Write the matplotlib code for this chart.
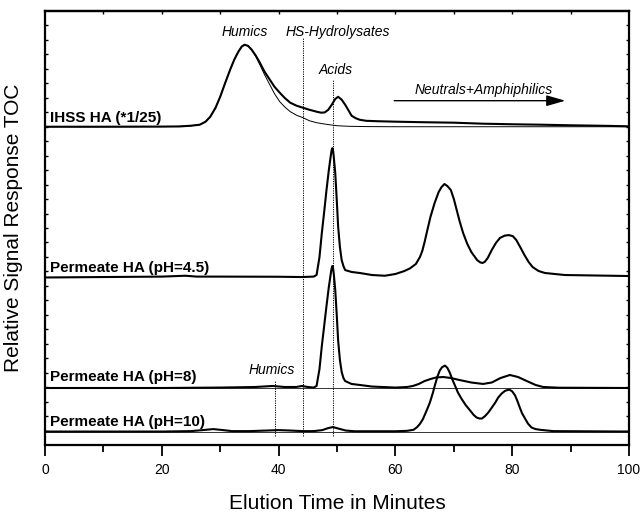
import matplotlib
matplotlib.use("Agg")
import matplotlib.pyplot as plt
import numpy as np

plt.rcParams['font.family'] = ['Liberation Sans', 'DejaVu Sans']

# ---------------- data (minutes, relative signal above each trace's baseline) ----------------
series_labels = ["IHSS HA (*1/25)", "Permeate HA (pH=4.5)", "Permeate HA (pH=8)", "Permeate HA (pH=10)"]
baselines = [22.0, 11.61, 3.94, 0.93]

ihss_t = [0, 10, 20, 23, 25, 26.5, 27.5, 28.3, 29.2, 30, 30.8, 31.7, 32.4, 33.1, 33.7, 34.2, 34.8,
          35.4, 36.1, 36.8, 37.6, 38.5, 39.3, 40.2, 41.1, 42.0, 43.1, 44.2, 45.3, 46.5, 47.3, 47.9,
          48.5, 49.1, 49.7, 50.2, 50.8, 51.4, 52.0, 52.5, 53.2, 53.9, 55, 57, 60, 65, 70, 75, 80,
          85, 90, 95, 100]
ihss_v = [0, 0, 0.01, 0.02, 0.07, 0.14, 0.35, 0.69, 1.31, 2.07, 2.97, 3.94, 4.63, 5.18, 5.55, 5.67, 5.58,
          5.32, 4.91, 4.42, 3.80, 3.25, 2.76, 2.35, 1.97, 1.66, 1.45, 1.31, 1.17, 1.04, 0.97, 0.99,
          1.17, 1.52, 1.92, 2.07, 1.87, 1.52, 1.11, 0.76, 0.59, 0.48, 0.41, 0.38, 0.35, 0.31, 0.28, 0.21, 0.17,
          0.14, 0.10, 0.07, 0.03]

ihss_fit_t = [0, 10, 20, 23, 25, 26.5, 27.5, 28.3, 29.2, 30, 30.8, 31.7, 32.4, 33.1, 33.7, 34.2, 34.8,
              35.4, 36.1, 36.8, 37.6, 38.5, 39.3, 40.2, 41.1, 42.0, 43.1, 44.2, 45.3, 46.5, 47.5, 48.7,
              50, 52, 55, 60, 100]
ihss_fit_v = [0, 0, 0.01, 0.02, 0.07, 0.14, 0.35, 0.69, 1.31, 2.07, 2.97, 3.94, 4.63, 5.18, 5.55, 5.67, 5.58,
              5.30, 4.85, 4.28, 3.59, 2.90, 2.28, 1.73, 1.35, 1.04, 0.79, 0.62, 0.41, 0.28, 0.21, 0.14,
              0.07, 0.03, 0.01, 0, 0]

ph45_t = [0, 10, 20, 24, 26, 30, 40, 44, 46, 46.5, 47.0, 47.4, 47.8, 48.2, 48.6, 49.0, 49.1, 49.2, 49.3,
          49.45, 49.7, 49.95, 50.2, 50.5, 50.8, 51.1, 51.4, 52.5, 53.9, 56, 58.2, 60, 61.5, 62.5, 63.5,
          64.2, 64.6, 65, 65.5, 66, 66.7, 67.4, 67.9, 68.4, 68.9, 69.5, 70.0, 70.5, 71.0, 71.6, 72.3, 73,
          74, 74.5, 74.9, 75.3, 75.8, 76.5, 77.2, 77.9, 78.7, 79.4, 80.1, 80.7, 81.4, 82.1, 82.8, 83.5,
          84.5, 85.6, 89, 100]
ph45_v = [-0.03, 0, 0.03, 0.09, 0.03, 0.03, 0.02, 0, 0.03, 0.14, 1.38, 3.04, 4.49, 6.01, 7.39, 8.57, 8.80,
          8.91, 8.85, 8.29, 7.19, 5.39, 3.46, 2.07, 1.17, 0.76, 0.48, 0.35, 0.28, 0.14, 0.09, 0.21, 0.41,
          0.60, 0.90, 1.38, 1.80, 2.42, 3.30, 4.15, 5.10, 5.87, 6.22, 6.43, 6.29, 6.01, 5.40, 4.63, 3.85,
          3.04, 2.30, 1.73, 1.17, 1.02, 0.97, 1.05, 1.31, 1.87, 2.35, 2.70, 2.86, 2.90, 2.83, 2.56, 2.05,
          1.52, 1.05, 0.69, 0.42, 0.28, 0.14, 0.07]

ph8_t = [0, 20, 30, 36, 39, 41, 43, 44, 45, 46, 46.5, 47.0, 47.4, 47.8, 48.2, 48.6, 49.0, 49.1, 49.2,
         49.3, 49.45, 49.7, 49.95, 50.2, 50.5, 50.8, 51.1, 51.4, 52.5, 53.9, 56, 60, 62, 63, 64, 65, 66,
         67, 68.2, 69.5, 71, 73, 75, 76.5, 78, 79.6, 81, 82.5, 84, 85.3, 88, 100]
ph8_v = [0, 0, 0.03, 0.07, 0.14, 0.07, 0.07, 0.14, 0.07, 0.03, 0.14, 1.31, 2.90, 4.28, 5.67, 6.98, 8.08,
         8.30, 8.43, 8.37, 7.88, 6.77, 5.11, 3.25, 1.93, 1.11, 0.69, 0.48, 0.28, 0.21, 0.10, 0.03, 0.07,
         0.14, 0.28, 0.48, 0.62, 0.73, 0.76, 0.69, 0.55, 0.38, 0.28, 0.38, 0.69, 0.90, 0.76, 0.48, 0.21,
         0.07, 0.02, 0]

ph10_t = [0, 20, 25, 27, 28.8, 30.5, 32, 35, 38, 40, 42, 44, 46, 47.5, 48.5, 49.3, 50.2, 51.5, 53, 60,
          62, 63.1, 63.7, 64.2, 64.7, 65.1, 65.5, 65.9, 66.4, 66.8, 67.2, 67.6, 68.0, 68.5, 68.9, 69.3,
          69.7, 70.2, 70.7, 71.3, 72.0, 72.8, 73.4, 73.9, 74.4, 74.8, 75.3, 75.9, 76.5, 77.1, 77.6, 78.2,
          78.8, 79.5, 80.0, 80.5, 80.9, 81.3, 81.7, 82.2, 82.7, 83.3, 84.0, 84.8, 87, 100]
ph10_v = [0, 0, 0.03, 0.10, 0.17, 0.10, 0.03, 0.03, 0.07, 0.10, 0.07, 0.03, 0.03, 0.10, 0.24, 0.31, 0.21,
          0.07, 0.02, 0.02, 0.05, 0.12, 0.30, 0.53, 0.85, 1.22, 1.60, 2.00, 2.65, 3.25, 3.80, 4.22, 4.45,
          4.56, 4.40, 4.08, 3.65, 3.18, 2.70, 2.28, 1.85, 1.45, 1.15, 0.97, 0.90, 0.90, 1.05, 1.31, 1.65,
          2.00, 2.35, 2.63, 2.82, 2.90, 2.78, 2.49, 2.10, 1.66, 1.25, 0.90, 0.55, 0.28, 0.17, 0.12, 0.03, 0]

# fraction markers: (label, x, y_top, y_bottom)
marker_names = ["Humics", "HS-Hydrolysates", "Acids"]
marker_x = [39.4, 44.1, 49.3]
marker_top = [4.49, 28.2, 25.2]
marker_bottom = [0.6, 0.6, 0.6]

xticks_major = [0, 20, 40, 60, 80, 100]

# ---------------- figure ----------------
fig = plt.figure(figsize=(6.42, 5.15), dpi=100)
ax = fig.add_axes([45 / 642, 1 - 445 / 515, (629 - 45) / 642, (445 - 11) / 515])
ax.set_xlim(0, 100)
ax.set_ylim(0, 30)

thick = 1.5
thin = 0.7
k = 'black'

# IHSS
ax.plot(ihss_fit_t, np.array(ihss_fit_v) + baselines[0], color=k, lw=thin)
ax.plot(ihss_t, np.array(ihss_v) + baselines[0], color=k, lw=thick)
# pH 4.5
ax.plot(ph45_t, np.array(ph45_v) + baselines[1], color=k, lw=thick)
# pH 8
ax.axhline(baselines[2], color='#333333', lw=thin)
ax.plot(ph8_t, np.array(ph8_v) + baselines[2], color=k, lw=thick)
# pH 10
ax.axhline(baselines[3], color='#333333', lw=thin)
ax.plot(ph10_t, np.array(ph10_v) + baselines[3], color=k, lw=thick)

# dotted marker lines
for xm, yt, yb in zip(marker_x, marker_top, marker_bottom):
    ax.plot([xm, xm], [yb, yt], color=k, lw=0.7, ls=(0, (1.2, 1.2)))

# series labels
label_y = [22.63, 12.23, 4.72, 1.61]
for lab, yy in zip(series_labels, label_y):
    ax.text(0.9, yy, lab, fontsize=11, fontweight='bold', ha='left', va='center')

# fraction annotations
ax.text(34.2, 28.55, "Humics", fontsize=10, style='italic', ha='center', va='center')
ax.text(41.2, 28.55, "HS-Hydrolysates", fontsize=10, style='italic', ha='left', va='center')
ax.text(49.8, 25.9, "Acids", fontsize=10, style='italic', ha='center', va='center')
ax.text(38.8, 5.18, "Humics", fontsize=10, style='italic', ha='center', va='center')
ax.text(75.2, 24.55, "Neutrals+Amphiphilics", fontsize=10, style='italic', ha='center', va='center')
ax.annotate("", xy=(89.1, 23.8), xytext=(59.8, 23.8),
            arrowprops=dict(arrowstyle='-|>,head_length=1.15,head_width=0.33',
                            mutation_scale=10, color=k, lw=1.0, shrinkA=0, shrinkB=0))

# axes styling
for s in ax.spines.values():
    s.set_linewidth(1.6)
ax.set_xticks(xticks_major)
ax.set_xticklabels([str(v) for v in xticks_major])
ax.set_xticks(np.arange(10, 100, 20), minor=True)
ax.tick_params(axis='x', which='major', direction='out', length=8, width=1.3, labelsize=10, pad=5)
ax.tick_params(axis='x', which='minor', direction='out', length=5, width=1.3)
ax.set_yticks(np.arange(1, 30, 1))
ax.set_yticklabels([])
ax.tick_params(axis='y', which='major', direction='in', length=2.5, width=1.0, left=True, right=True)
# top-axis inward ticks
axt = ax.secondary_xaxis('top')
axt.set_xticks(np.arange(10, 100, 10))
axt.set_xticklabels([])
axt.tick_params(direction='in', length=2.5, width=1.0)
axt.spines['top'].set_linewidth(1.6)

ax.set_xlabel("Elution Time in Minutes", fontsize=15, labelpad=12)
ax.set_ylabel("Relative Signal Response TOC", fontsize=15, labelpad=12)

fig.savefig("out.png", dpi=100)
